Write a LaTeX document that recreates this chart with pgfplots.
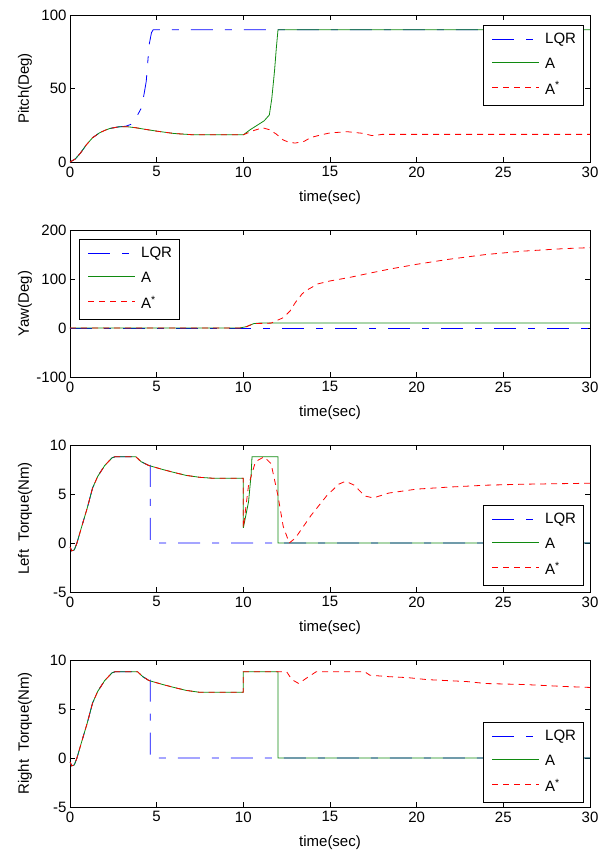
\documentclass[border=0pt]{standalone}
\usepackage{fontspec}
\setmainfont{Liberation Sans}
\usepackage{pgfplots}
\pgfplotsset{compat=1.18}
\definecolor{mblue}{HTML}{0000FF}
\definecolor{mgreen}{HTML}{108A10}
\definecolor{mred}{HTML}{FF0000}

\tikzset{
  lqr/.style={mblue, line width=0.8pt, dash pattern=on 22pt off 12pt on 7pt off 12pt},
  aa/.style={mgreen, line width=0.8pt, solid},
  ast/.style={mred, line width=0.8pt, dash pattern=on 6pt off 5pt},
}
\pgfplotsset{
  mlab/.style={
    scale only axis, width=520pt, height=147pt,
    xmin=0, xmax=30,
    xtick={0,5,10,15,20,25,30},
    xticklabels={0,5,10,15,20,25,30},
    tick align=inside, major tick length=5pt,
    xtick pos=both, ytick pos=both,
    axis line style={black, line width=0.7pt},
    every tick/.style={black, line width=0.6pt},
    tick label style={font=\fontsize{15}{17}\selectfont},
    label style={font=\fontsize{15}{17}\selectfont},
    xticklabel style={yshift=-1pt},
    xlabel={time(sec)},
    xlabel style={at={(rel axis cs:0.5,0)}, anchor=center, yshift=-36pt},
    ylabel style={at={(rel axis cs:0,0.5)}, anchor=center, yshift=45pt},
  },
}

% legend box: #1,#2 = top-left corner in pixels of the page
\newcommand\mylegend[2]{%
  \begin{scope}[shift={(#1pt,-#2pt)}]
    \draw[black, line width=0.7pt, fill=white] (0pt,0pt) rectangle (100pt,-80pt);
    \draw[lqr] (9pt,-14pt) -- (56pt,-14pt);
    \draw[aa]  (9pt,-37pt) -- (56pt,-37pt);
    \draw[ast] (9pt,-62pt) -- (56pt,-62pt);
    \node[anchor=west, inner sep=0pt, font=\fontsize{15}{17}\selectfont] at (62pt,-15pt) {LQR};
    \node[anchor=west, inner sep=0pt, font=\fontsize{15}{17}\selectfont] at (62pt,-38pt) {A};
    \node[anchor=west, inner sep=0pt, font=\fontsize{15}{17}\selectfont] at (62pt,-63pt) {A\textsuperscript{*}};
  \end{scope}}

\begin{document}
\begin{tikzpicture}
\useasboundingbox (0pt,0pt) rectangle (610pt,-856pt);

% ---- Pitch
\begin{axis}[mlab, at={(70pt,-162pt)}, anchor=south west,
  ymin=0, ymax=100, ytick={0,50,100}, yticklabels={0,50,100},
  ylabel={Pitch(Deg)}]
\addplot[lqr] coordinates {(0,0) (0.3,2) (0.6,6) (0.93,11.5) (1.3,16.5) (1.7,19.8) (2.0,21.5) (2.3,22.8) (2.8,23.9)
  (3.2,24.3) (3.5,25.5) (3.74,27.5) (3.9,32) (4.13,37) (4.3,48) (4.4,55) (4.5,70) (4.57,80) (4.7,88) (4.8,90) (30,90)};
\addplot[aa] coordinates {(0,0) (0.3,2) (0.6,6) (0.93,11.5) (1.3,16.5) (1.7,19.8) (2.0,21.5) (2.3,22.8) (2.8,23.9)
  (3.3,24) (3.8,23.3) (4.3,22.3) (5,21) (6,19.4) (7,18.6) (8,18.5) (10,18.5)
  (10.4,22) (10.8,25) (11.2,28) (11.5,32) (11.64,43) (11.8,62) (11.9,77) (12,90) (30,90)};
\addplot[ast] coordinates {(0,0) (0.3,2) (0.6,6) (0.93,11.5) (1.3,16.5) (1.7,19.8) (2.0,21.5) (2.3,22.8) (2.8,23.9)
  (3.3,24) (3.8,23.3) (4.3,22.3) (5,21) (6,19.4) (7,18.6) (8,18.5) (10,18.5)
  (10.5,21) (11.1,23.3) (11.5,22) (11.9,19) (12.3,15) (12.65,13.3) (13,12.9) (13.5,14) (13.9,16.7)
  (14.5,18.5) (15,19.8) (16,20.6) (16.9,19.5) (17.4,18) (17.7,18.2) (18,18.8) (30,18.8)};
\end{axis}

% ---- Yaw
\begin{axis}[mlab, at={(70pt,-377pt)}, anchor=south west,
  ymin=-100, ymax=200, ytick={-100,0,100,200}, yticklabels={-100,0,100,200},
  ylabel={Yaw(Deg)}]
\addplot[lqr] coordinates {(0,0) (30,0)};
\addplot[aa] coordinates {(0,0) (9.8,0) (10.2,3) (10.6,9) (11,10.3) (30,10.3)};
\addplot[ast] coordinates {(0,0) (9.8,0) (10.2,3) (10.6,9) (11.6,10) (12.3,21) (12.7,35) (13,52) (13.4,70)
  (13.7,78) (14.3,90) (15,96) (16.1,103) (17.3,112) (18.4,120) (20,130) (21.8,140) (24,150) (26.2,157)
  (28.5,162) (30,164)};
\end{axis}

% ---- Left torque
\begin{axis}[mlab, at={(70pt,-592pt)}, anchor=south west,
  ymin=-5, ymax=10, ytick={-5,0,5,10}, yticklabels={-5,0,5,10},
  ylabel={Left~ Torque(Nm)}]
\addplot[lqr] coordinates {(0,-0.4) (0.1,-0.8) (0.25,-0.7) (0.4,0) (0.63,1.4) (1,3.6) (1.3,5.6) (1.6,6.8)
  (2,7.9) (2.43,8.7) (2.6,8.8) (3.8,8.8) (4.1,8.3) (4.56,7.9) (4.63,8.5) (4.63,0) (30,0)};
\addplot[aa] coordinates {(0,-0.4) (0.1,-0.8) (0.25,-0.7) (0.4,0) (0.63,1.4) (1,3.6) (1.3,5.6) (1.6,6.8)
  (2,7.9) (2.43,8.7) (2.6,8.8) (3.8,8.8) (4.1,8.3) (4.56,7.9) (5.35,7.5) (6.0,7.2) (6.7,6.9) (7.5,6.7)
  (8.3,6.6) (10,6.6) (10,1.55) (10.3,4.2) (10.45,7) (10.5,8.8) (12,8.8) (12,0) (30,0)};
\addplot[ast] coordinates {(0,-0.4) (0.1,-0.8) (0.25,-0.7) (0.4,0) (0.63,1.4) (1,3.6) (1.3,5.6) (1.6,6.8)
  (2,7.9) (2.43,8.7) (2.6,8.8) (3.8,8.8) (4.1,8.3) (4.56,7.9) (5.35,7.5) (6.0,7.2) (6.7,6.9) (7.5,6.7)
  (8.3,6.6) (10,6.6) (10,1.55) (10.3,5.9) (10.7,8.3) (11.2,8.8) (11.6,8.1) (12,4.8) (12.3,1.7) (12.65,0)
  (13,0.5) (13.9,2.8) (14.8,4.8) (15.5,6.0) (15.9,6.3) (16.4,5.9) (17,4.8) (17.5,4.6) (18.4,5.1)
  (20,5.5) (21.8,5.7) (24,5.9) (26.2,6.0) (30,6.1)};
\end{axis}

% ---- Right torque
\begin{axis}[mlab, at={(70pt,-807pt)}, anchor=south west,
  ymin=-5, ymax=10, ytick={-5,0,5,10}, yticklabels={-5,0,5,10},
  ylabel={Right~ Torque(Nm)}]
\addplot[lqr] coordinates {(0,-0.4) (0.1,-0.8) (0.25,-0.7) (0.4,0) (0.63,1.4) (1,3.6) (1.3,5.6) (1.6,6.8)
  (2,7.9) (2.43,8.7) (2.6,8.8) (3.9,8.8) (4.2,8.3) (4.56,7.9) (4.63,8.5) (4.63,0) (30,0)};
\addplot[aa] coordinates {(0,-0.4) (0.1,-0.8) (0.25,-0.7) (0.4,0) (0.63,1.4) (1,3.6) (1.3,5.6) (1.6,6.8)
  (2,7.9) (2.43,8.7) (2.6,8.8) (3.9,8.8) (4.2,8.3) (4.56,7.9) (5.35,7.5) (6.0,7.2) (6.7,6.9) (7.5,6.7)
  (8.3,6.7) (10,6.7) (10,8.8) (12,8.8) (12,0) (30,0)};
\addplot[ast] coordinates {(0,-0.4) (0.1,-0.8) (0.25,-0.7) (0.4,0) (0.63,1.4) (1,3.6) (1.3,5.6) (1.6,6.8)
  (2,7.9) (2.43,8.7) (2.6,8.8) (3.9,8.8) (4.2,8.3) (4.56,7.9) (5.35,7.5) (6.0,7.2) (6.7,6.9) (7.5,6.7)
  (8.3,6.7) (10,6.7) (10,8.8) (12.5,8.8) (12.8,8.0) (13.2,7.6) (13.6,8.1) (14.2,8.8) (17,8.8) (17.3,8.45)
  (18.4,8.3) (19.5,8.2) (20.6,8.0) (22.9,7.8) (24,7.6) (26.2,7.5) (28.5,7.3) (30,7.2)};
\end{axis}

% legends, drawn over the axes
\mylegend{483}{25}
\mylegend{79}{239}
\mylegend{483}{505}
\mylegend{483}{722}
\end{tikzpicture}
\end{document}
